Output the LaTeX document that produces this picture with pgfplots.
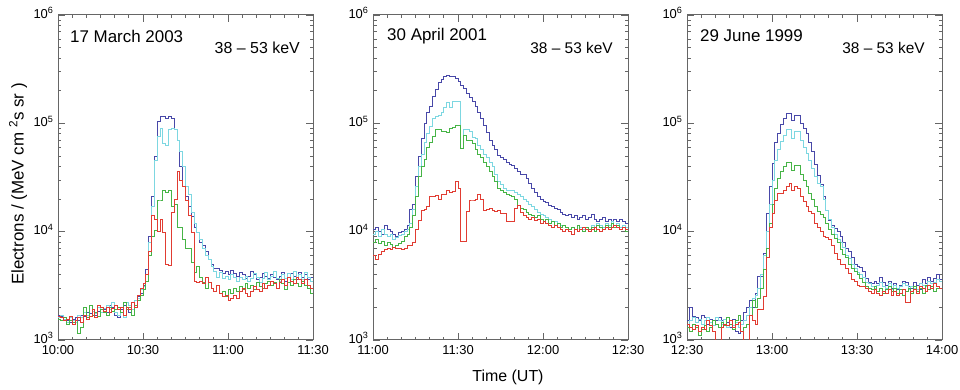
\documentclass[border=0pt]{standalone}
\usepackage{fontspec}
\setmainfont{Liberation Sans}
\usepackage{pgfplots}
\usepackage{pgfplotstable}
\pgfplotsset{compat=1.18}
\pgfkeys{/pgf/number format/assume math mode=true}
\definecolor{cB}{RGB}{72,72,168}
\definecolor{cC}{RGB}{125,215,225}
\definecolor{cG}{RGB}{70,180,70}
\definecolor{cR}{RGB}{225,60,50}

\pgfplotstableread{
t b c g r
0 1700 1600 1550 1650
1 1650 1700 1500 1600
2 1600 1550 1600 1500
3 1500 1450 1400 1550
4 1450 1600 1500 1650
5 1550 1500 1450 1400
6 1600 1450 1500 1500
7 1500 1700 1150 1600
8 1700 1600 1300 1450
9 1650 1800 2000 1700
10 1800 1700 1600 1550
11 1750 1650 2100 1650
12 1900 1850 1700 1900
13 1700 1750 1800 1600
14 1850 2000 1650 2100
15 2000 1800 1900 2000
16 1900 1950 1800 1850
17 1800 2100 1700 2000
18 2100 1900 2000 1800
19 2000 2200 1850 1950
20 1700 1800 1900 2100
21 1600 1700 2000 1900
22 1900 2000 1800 2000
23 2100 1600 2200 1700
24 2000 2200 1900 2000
25 1800 2100 2000 1900
26 2200 1900 1700 2200
27 2000 2300 2100 2000
28 2500 2400 2300 2600
29 2700 2900 2600 3000
30 3200 3100 2900 3300
31 4500 4000 3500 4000
32 9000 8000 6000 6500
33 21000 17000 9000 14000
34 49000 45000 10300 13000
35 104000 75000 19600 10000
36 115000 90000 19600 13000
37 115000 65000 24000 9800
38 112000 62000 23000 5000
39 115000 88000 24000 4900
40 110000 90000 17000 15000
41 87000 88000 18000 20000
42 70000 70000 11000 36000
43 40000 55000 11000 30000
44 26000 40000 8400 26000
45 21000 26000 7000 19600
46 17000 22000 7000 14000
47 13800 15000 5200 9800
48 11000 12000 4200 3500
49 9800 9800 4800 3400
50 7900 8500 3800 3500
51 7500 7000 3400 3300
52 6500 6000 3000 3800
53 5500 5500 3400 3400
54 5000 4800 3000 3000
55 4600 4300 2800 2800
56 4600 3800 3200 3200
57 4400 4200 2700 2700
58 4100 3700 2800 2500
59 4300 3900 2500 2600
60 4000 3600 2900 2300
61 4400 4000 2700 2400
62 4100 3800 3000 2600
63 3900 3500 2800 2400
64 4200 3800 3100 2800
65 4000 3600 2900 3000
66 3700 3900 3300 2700
67 3900 3500 3000 2500
68 4300 3700 3200 2800
69 4000 4100 2900 3100
70 3600 3800 3400 2900
71 3800 3400 3100 2800
72 4100 3700 3000 3300
73 3900 4200 3300 3000
74 3700 3600 3500 3200
75 4000 3900 3200 3500
76 3800 4300 3400 3300
77 3600 3700 3000 3000
78 3900 3500 3600 3400
79 4200 4000 3300 3600
80 3500 3700 2900 3200
81 3800 4100 3400 3800
82 4100 3600 3200 3500
83 3900 4300 3600 3300
84 3600 3800 3300 3800
85 4200 4000 3100 3600
86 3800 3600 3500 3300
87 4000 4200 3200 3600
88 3600 3800 3000 3200
89 3800 3500 2700 3000
90 3800 3500 2700 3000
}\dA

\pgfplotstableread{
t b c g r
0 10500 9500 8000 6000
1 11000 10000 8500 5500
2 10000 9000 7800 6200
3 9500 10500 8200 6500
4 11500 9500 7500 6800
5 10500 9000 8000 7000
6 10000 9500 7600 6800
7 9500 8500 7200 7200
8 9000 8800 7500 7000
9 9800 9200 7800 7000
10 10000 9500 8200 6800
11 10500 10000 9000 7000
12 11500 10500 9500 7500
13 16000 12000 11000 7500
14 18000 16000 14000 8000
15 32000 26000 21000 10400
16 49000 40000 32000 12800
17 73000 52000 40000 15800
18 100000 66000 46000 16000
19 125000 80000 60000 17000
20 144000 93000 66000 21000
21 178000 110000 75000 21000
22 205000 115000 87000 21500
23 236000 118000 87000 20000
24 255000 125000 85000 22000
25 270000 140000 84000 22000
26 275000 155000 82000 24000
27 272000 140000 90000 23000
28 270000 160000 92000 23500
29 260000 160000 96000 29000
30 245000 160000 96000 25000
31 225000 59000 59000 8100
32 210000 87000 78000 8100
33 190000 88000 70000 15300
34 175000 85000 70000 19600
35 160000 74000 65000 19600
36 142000 72000 57000 20000
37 125000 62000 52000 22000
38 110000 58000 48000 20000
39 95000 52000 44000 15800
40 82000 48000 40000 16000
41 70000 44000 36000 16500
42 62000 40000 32000 15800
43 57000 34000 29000 15500
44 50000 29000 25000 15800
45 48000 27000 24000 14700
46 46000 25000 23000 14700
47 44000 24000 22000 12300
48 42000 24000 21500 12500
49 41000 24000 21000 12300
50 38000 23000 20000 16500
51 36000 22000 17500 17500
52 34000 21000 16500 15000
53 34000 20000 16000 14000
54 31000 19000 15000 13500
55 28000 18000 14500 13000
56 25000 17000 14000 13500
57 23000 16000 13500 12800
58 21000 15000 14000 13000
59 20000 14500 13000 12000
60 19000 14000 12500 12500
61 18500 13500 13000 12000
62 17500 13000 12000 11500
63 17000 12500 12500 11000
64 16500 12500 11500 11500
65 16000 12000 12000 11000
66 15000 11500 11000 10500
67 14500 11500 11500 10000
68 14000 11000 11000 10500
69 14500 10500 10500 10000
70 13500 11000 11000 9500
71 14000 10500 10500 10500
72 13000 11500 11500 10000
73 13500 11000 10500 10500
74 14000 10500 10000 11000
75 13000 11000 11000 10500
76 13500 10500 10500 10000
77 14500 11500 11000 10500
78 13000 11000 10000 11000
79 12500 12000 11500 10500
80 13000 11500 11000 10000
81 13500 11000 10500 10500
82 12500 12000 11500 11000
83 13000 11500 11000 10500
84 12000 12500 12000 11000
85 13000 11500 11000 11500
86 12500 12000 11500 11000
87 13000 11000 10500 10500
88 12500 11500 11000 11000
89 12000 11000 10000 10500
90 12000 11000 10000 10500
}\dB

\pgfplotstableread{
t b c g r
0 1500 1400 1300 1400
1 2000 1500 1200 1300
2 1650 1600 1400 1250
3 1600 1450 1300 1350
4 1500 1550 1100 1200
5 1700 1400 1250 1300
6 1600 1500 1350 1250
7 1400 1600 1200 1500
8 1550 1450 1300 1350
9 1350 1350 1500 1200
10 1500 1600 1400 950
11 1600 1500 1300 900
12 1500 1400 1450 1300
13 1400 1550 1350 1400
14 1450 1300 1600 1350
15 1300 1500 1400 1500
16 1550 1350 1250 1300
17 1200 1450 1500 1400
18 1150 1300 1700 1450
19 1500 1400 1200 1200
20 1800 1500 1300 950
21 2000 1700 1400 950
22 2300 2000 1700 1700
23 2000 2400 2300 1500
24 2700 2600 2000 1400
25 3850 3000 2400 1900
26 3850 4000 3000 1900
27 6300 6000 4500 2500
28 14800 10000 7000 5800
29 26000 18000 12000 11000
30 43000 30000 18000 14800
31 66000 45000 25000 19600
32 81000 58000 31000 22500
33 98000 68000 36000 22500
34 110000 78000 40000 24000
35 124000 87000 44000 26000
36 124000 87000 44000 28000
37 106000 72000 37000 24000
38 118000 85000 41000 26000
39 118000 85000 41000 25000
40 100000 70000 34000 21000
41 90000 60000 30000 19000
42 81000 53000 26000 17000
43 66000 45000 22500 15500
44 55000 38000 20000 14800
45 42000 32000 17000 12000
46 33000 28000 15500 11000
47 27500 26000 14500 10000
48 21000 20000 13500 9000
49 15800 15800 12000 8800
50 12800 13000 10500 8400
51 11500 11000 9500 7500
52 10700 9500 8600 6300
53 10000 8500 8000 5500
54 9000 8000 6800 5000
55 8000 7200 6200 5000
56 7000 6000 5800 4600
57 6500 5600 5000 4100
58 5800 5000 4600 3600
59 5000 4600 4300 3500
60 4800 4200 4000 3200
61 4700 4000 3700 3100
62 4300 3800 3400 3100
63 3700 3400 3100 3000
64 3400 3300 3000 2800
65 3300 3100 2900 2700
66 3500 3000 3100 2900
67 3300 3200 2800 2700
68 3800 3400 3000 2600
69 3400 3100 2700 2800
70 3200 3000 2900 2700
71 3500 3300 3100 2900
72 3000 2900 2800 2600
73 3300 3200 3000 2800
74 2900 3000 2700 2600
75 3200 3100 2900 2700
76 3500 3300 2600 2900
77 3400 3200 2800 2200
78 3100 2900 3000 2200
79 3000 3100 2700 2800
80 3400 3000 3100 2900
81 3200 2900 2800 2700
82 2900 3300 3000 3100
83 3600 3200 2700 3000
84 3300 3100 3200 2800
85 3800 3500 2900 3200
86 3500 3300 3100 3000
87 3700 3400 2800 3300
88 4000 3600 3000 3100
89 3600 3500 3000 3000
90 3600 3500 3000 3000
}\dC

\pgfplotsset{
  every axis/.append style={
    scale only axis, width=255bp, height=325bp, anchor=south west,
    xmin=0, xmax=90, xtick={0,30,60,90}, minor x tick num=5,
    tick align=inside, major tick length=7bp, minor tick length=3.5bp,
    axis line style={draw=black!60, line width=1bp},
    every tick/.style={black!60, line width=0.8bp},
    tick label style={font=\fontsize{13}{15}\selectfont},
    xticklabel style={yshift=-2bp},
    yticklabel style={yshift=2bp, xshift=-1bp},
  },
}

\begin{document}
\begin{tikzpicture}
\useasboundingbox (0,0) rectangle (960bp,390bp);
\begin{semilogyaxis}[at={(58bp,50bp)}, ymin=1000, ymax=1000000,
  ytick={1000,10000,100000,1000000},
  yticklabel={10\textsuperscript{\pgfmathparse{int(round(\tick/2.302585))}\pgfmathresult}},
  xticklabels={10:00,10:30,11:00,11:30}]
\addplot[const plot mark left, line width=0.9bp, mark=none, cB] table[x=t,y=b]{\dA};
\addplot[const plot mark left, line width=0.9bp, mark=none, cC] table[x=t,y=c]{\dA};
\addplot[const plot mark left, line width=0.9bp, mark=none, cG] table[x=t,y=g]{\dA};
\addplot[const plot mark left, line width=0.9bp, mark=none, cR] table[x=t,y=r]{\dA};
\node[anchor=west, inner sep=0pt, font=\fontsize{17}{19}\selectfont] at (rel axis cs:0.047,0.935) {17 March 2003};
\node[anchor=east, inner sep=0pt, font=\fontsize{16}{18}\selectfont] at (rel axis cs:0.949,0.90) {38 – 53 keV};
\end{semilogyaxis}
\begin{semilogyaxis}[at={(373bp,50bp)}, ymin=1000, ymax=1000000,
  ytick={1000,10000,100000,1000000},
  yticklabel={10\textsuperscript{\pgfmathparse{int(round(\tick/2.302585))}\pgfmathresult}},
  xticklabels={11:00,11:30,12:00,12:30}]
\addplot[const plot mark left, line width=0.9bp, mark=none, cB] table[x=t,y=b]{\dB};
\addplot[const plot mark left, line width=0.9bp, mark=none, cC] table[x=t,y=c]{\dB};
\addplot[const plot mark left, line width=0.9bp, mark=none, cG] table[x=t,y=g]{\dB};
\addplot[const plot mark left, line width=0.9bp, mark=none, cR] table[x=t,y=r]{\dB};
\node[anchor=west, inner sep=0pt, font=\fontsize{17}{19}\selectfont] at (rel axis cs:0.055,0.935) {30 April 2001};
\node[anchor=east, inner sep=0pt, font=\fontsize{15.5}{18}\selectfont] at (rel axis cs:0.941,0.90) {38 – 53 keV};
\end{semilogyaxis}
\begin{semilogyaxis}[at={(687bp,50bp)}, ymin=1000, ymax=1000000,
  ytick={1000,10000,100000,1000000},
  yticklabel={10\textsuperscript{\pgfmathparse{int(round(\tick/2.302585))}\pgfmathresult}},
  xticklabels={12:30,13:00,13:30,14:00}]
\addplot[const plot mark left, line width=0.9bp, mark=none, cB] table[x=t,y=b]{\dC};
\addplot[const plot mark left, line width=0.9bp, mark=none, cC] table[x=t,y=c]{\dC};
\addplot[const plot mark left, line width=0.9bp, mark=none, cG] table[x=t,y=g]{\dC};
\addplot[const plot mark left, line width=0.9bp, mark=none, cR] table[x=t,y=r]{\dC};
\node[anchor=west, inner sep=0pt, font=\fontsize{17}{19}\selectfont] at (rel axis cs:0.051,0.935) {29 June 1999};
\node[anchor=east, inner sep=0pt, font=\fontsize{15.5}{18}\selectfont] at (rel axis cs:0.933,0.90) {38 – 53 keV};
\end{semilogyaxis}
\node[rotate=90, font=\fontsize{17}{19}\selectfont] at (18bp,206bp) {Electrons / (MeV cm \textsuperscript{2}s sr )};
\node[font=\fontsize{16}{18}\selectfont] at (508bp,13bp) {Time (UT)};
\end{tikzpicture}
\end{document}
